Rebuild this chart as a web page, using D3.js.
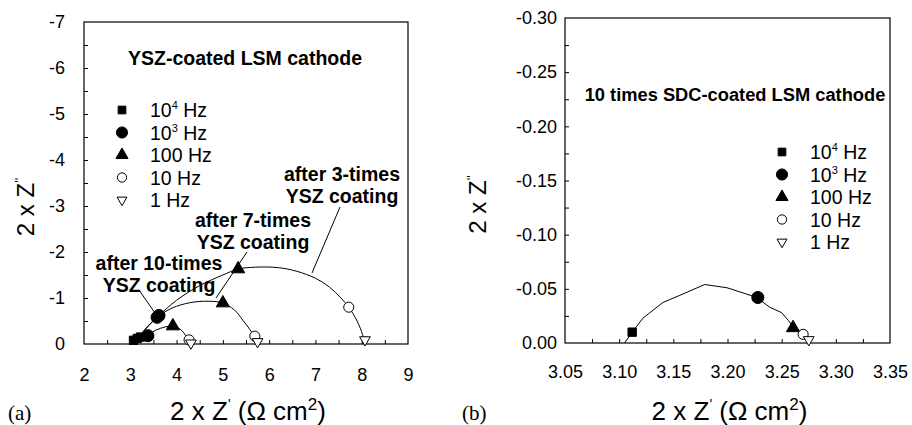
<!DOCTYPE html>
<html>
<head>
<meta charset="utf-8">
<script src="https://cdn.jsdelivr.net/npm/d3@7"></script>
<style>
  body { margin: 0; background: #fff; }
  text { font-family: "Liberation Sans", Arial, sans-serif; fill: #000; }
</style>
</head>
<body>
<svg id="chart" width="912" height="425"></svg>
<script>
// legend entries: [base, superscript, rest]
const freqLabels = [["10", "4", " Hz"], ["10", "3", " Hz"], ["100", "", " Hz"], ["10", "", " Hz"], ["1", "", " Hz"]];
const markerKinds = ["square", "circle", "triangle", "openCircle", "downTriangle"];

// panel (a): x = 2 x Z', y = 2 x Z'' (axis shows negative values)
const xTicksA = [2, 3, 4, 5, 6, 7, 8, 9];
const yTicksA = [0, -1, -2, -3, -4, -5, -6, -7];

const curve3 = [[3.05, 0], [3.2, -0.15], [3.4, -0.4], [3.62, -0.62], [4.0, -0.95], [4.5, -1.27], [5.0, -1.5],
  [5.33, -1.63], [5.7, -1.67], [6.2, -1.66], [6.6, -1.58], [7.0, -1.43], [7.3, -1.24], [7.55, -1.0],
  [7.72, -0.8], [7.9, -0.5], [8.02, -0.2], [8.06, -0.02]];
const points3 = [[3.22, -0.15], [3.62, -0.62], [5.33, -1.63], [7.72, -0.80], [8.07, -0.09]];

const curve7 = [[3.08, 0], [3.3, -0.3], [3.58, -0.58], [3.9, -0.78], [4.3, -0.9], [4.7, -0.93], [5.0, -0.89],
  [5.25, -0.74], [5.43, -0.52], [5.58, -0.32], [5.68, -0.14], [5.73, -0.02]];
const points7 = [[3.15, -0.12], [3.58, -0.58], [5.0, -0.89], [5.69, -0.17], [5.75, -0.05]];

const curve10 = [[3.03, 0], [3.2, -0.12], [3.38, -0.2], [3.55, -0.3], [3.75, -0.37], [3.92, -0.39],
  [4.08, -0.32], [4.2, -0.18], [4.27, -0.05], [4.29, 0]];
const points10 = [[3.07, -0.08], [3.38, -0.18], [3.92, -0.39], [4.27, -0.09], [4.31, -0.02]];

// panel (b)
const xTicksB = [3.05, 3.10, 3.15, 3.20, 3.25, 3.30, 3.35];
const yTicksB = [0, -0.05, -0.10, -0.15, -0.20, -0.25, -0.30];
const curveSDC = [[3.105, 0], [3.112, -0.010], [3.122, -0.023], [3.1405, -0.0375], [3.156, -0.044],
  [3.179, -0.054], [3.1995, -0.051], [3.216, -0.0457], [3.227, -0.042], [3.239, -0.033], [3.250, -0.028],
  [3.256, -0.021], [3.2605, -0.015], [3.2706, -0.009], [3.2752, -0.003]];
const pointsSDC = [[3.112, -0.010], [3.228, -0.042], [3.2605, -0.014], [3.2698, -0.008], [3.275, -0.003]];

const svg = d3.select("#chart");

function drawMarker(g, kind, x, y, scale = 1) {
  const sizes = { square: 70, circle: 115, triangle: 75, openCircle: 80, downTriangle: 50 };
  const types = { square: d3.symbolSquare, circle: d3.symbolCircle, triangle: d3.symbolTriangle,
    openCircle: d3.symbolCircle, downTriangle: d3.symbolTriangle };
  const open = kind === "openCircle" || kind === "downTriangle";
  g.append("path")
    .attr("d", d3.symbol(types[kind], sizes[kind] * scale)())
    .attr("transform", `translate(${x},${y})` + (kind === "downTriangle" ? " rotate(180)" : ""))
    .attr("fill", open ? "#fff" : "#000")
    .attr("stroke", "#000")
    .attr("stroke-width", 1);
}

function drawPanel(p) {
  const g = svg.append("g");
  const x = d3.scaleLinear().domain(p.xDomain).range([p.left, p.right]);
  const y = d3.scaleLinear().domain(p.yDomain).range([p.bottom, p.top]);

  // minor ticks (inward)
  g.append("g")
    .attr("transform", `translate(0,${p.bottom})`)
    .call(d3.axisBottom(x).tickValues(p.xMinor).tickSize(-4).tickFormat(""))
    .call(a => a.select(".domain").remove());
  g.append("g")
    .attr("transform", `translate(${p.left},0)`)
    .call(d3.axisLeft(y).tickValues(p.yMinor).tickSize(-4).tickFormat(""))
    .call(a => a.select(".domain").remove());

  // labels
  g.append("g")
    .attr("transform", `translate(0,${p.bottom})`)
    .call(d3.axisBottom(x).tickValues(p.xTicks).tickSize(0).tickPadding(p.xPad).tickFormat(p.xFmt))
    .call(a => a.select(".domain").remove())
    .call(a => a.selectAll("text").style("font-size", "18px").style("font-family", "Liberation Sans, Arial"));
  g.append("g")
    .attr("transform", `translate(${p.left},0)`)
    .call(d3.axisLeft(y).tickValues(p.yTicks).tickSize(0).tickPadding(p.yPad).tickFormat(p.yFmt))
    .call(a => a.select(".domain").remove())
    .call(a => a.selectAll("text").style("font-size", "18px").style("font-family", "Liberation Sans, Arial"));

  // frame
  g.append("rect")
    .attr("x", p.left).attr("y", p.top)
    .attr("width", p.right - p.left).attr("height", p.bottom - p.top)
    .attr("fill", "none").attr("stroke", "#000").attr("stroke-width", 1.2);

  const line = d3.line().x(d => x(d[0])).y(d => y(d[1])).curve(p.curve);
  p.series.forEach(s => {
    g.append("path").attr("d", line(s.curve)).attr("fill", "none").attr("stroke", "#000").attr("stroke-width", 1);
  });
  p.series.forEach(s => {
    s.points.forEach((pt, i) => drawMarker(g, markerKinds[i], x(pt[0]), y(pt[1])));
  });

  // legend
  freqLabels.forEach((lab, i) => {
    const ly = p.legendY + i * 22.5;
    drawMarker(g, markerKinds[i], p.legendX, ly, 0.85);
    const t = g.append("text").attr("x", p.legendX + 28).attr("y", ly + 7).style("font-size", "19.5px");
    t.append("tspan").text(lab[0]);
    if (lab[1]) t.append("tspan").attr("dy", -8).style("font-size", "11px").text(lab[1]);
    t.append("tspan").attr("dy", lab[1] ? 8 : 0).text(lab[2]);
  });

  // title inside the plot
  g.append("text").attr("x", p.titleX).attr("y", p.titleY).attr("text-anchor", "middle")
    .style("font-size", p.titleSize).style("font-weight", "bold").text(p.title);

  // axis titles
  const xt = g.append("text").attr("x", (p.left + p.right) / 2 + 2).attr("y", 420)
    .attr("text-anchor", "middle").style("font-size", "26px");
  xt.append("tspan").text("2 x Z");
  xt.append("tspan").attr("dy", -11).style("font-size", "14px").text("'");
  xt.append("tspan").attr("dy", 11).text(" (Ω cm");
  xt.append("tspan").attr("dy", -10).style("font-size", "17px").text("2");
  xt.append("tspan").attr("dy", 10).text(")");

  const yt = g.append("text")
    .attr("transform", `translate(${p.yTitleX},${(p.top + p.bottom) / 2 + 24}) rotate(-90)`)
    .attr("text-anchor", "middle").style("font-size", "24px");
  yt.append("tspan").text("2 x Z");
  yt.append("tspan").attr("dy", -10).style("font-size", "13px").text("''");

  g.append("text").attr("x", p.tagX).attr("y", 420)
    .style("font-family", "Liberation Serif, Times New Roman, serif").style("font-size", "21px").text(p.tag);

  return { g, x, y };
}

const a = drawPanel({
  left: 84, right: 408, top: 22, bottom: 344,
  xDomain: [2, 9], yDomain: [0, -7],
  xTicks: xTicksA, yTicks: yTicksA,
  xMinor: d3.range(2.5, 9, 0.5), yMinor: d3.range(-0.5, -7, -0.5),
  xFmt: d => String(d), yFmt: d => String(d),
  xPad: 24, yPad: 19, curve: d3.curveCatmullRom,
  series: [{ curve: curve3, points: points3 }, { curve: curve7, points: points7 }, { curve: curve10, points: points10 }],
  legendX: 122, legendY: 110,
  title: "YSZ-coated LSM cathode", titleX: 245, titleY: 65, titleSize: "19.5px",
  yTitleX: 34, tag: "(a)", tagX: 8
});

// annotations for panel (a)
const notes = [
  { lines: ["after 3-times", "YSZ coating"], cx: 342, y: 181, from: [340, 207], to: [312, 273] },
  { lines: ["after 7-times", "YSZ coating"], cx: 253, y: 227, from: [247, 252], to: [216, 298] },
  { lines: ["after 10-times", "YSZ coating"], cx: 159, y: 270, from: [139, 290], to: [155, 313] }
];
notes.forEach(n => {
  n.lines.forEach((l, i) => a.g.append("text").attr("x", n.cx).attr("y", n.y + i * 21.5)
    .attr("text-anchor", "middle").style("font-size", "19.5px").style("font-weight", "bold").text(l));
  a.g.append("line").attr("x1", n.from[0]).attr("y1", n.from[1]).attr("x2", n.to[0]).attr("y2", n.to[1])
    .attr("stroke", "#000").attr("stroke-width", 1);
});

drawPanel({
  left: 565, right: 890, top: 18, bottom: 343,
  xDomain: [3.05, 3.35], yDomain: [0, -0.30],
  xTicks: xTicksB, yTicks: yTicksB,
  xMinor: d3.range(3.075, 3.35, 0.025), yMinor: d3.range(-0.025, -0.3, -0.025),
  xFmt: d => d.toFixed(2), yFmt: d => d.toFixed(2),
  xPad: 22, yPad: 8, curve: d3.curveLinear,
  series: [{ curve: curveSDC, points: pointsSDC }],
  legendX: 782, legendY: 152,
  title: "10 times SDC-coated LSM cathode", titleX: 735, titleY: 101, titleSize: "18.3px",
  yTitleX: 486, tag: "(b)", tagX: 462
});
</script>
</body>
</html>
